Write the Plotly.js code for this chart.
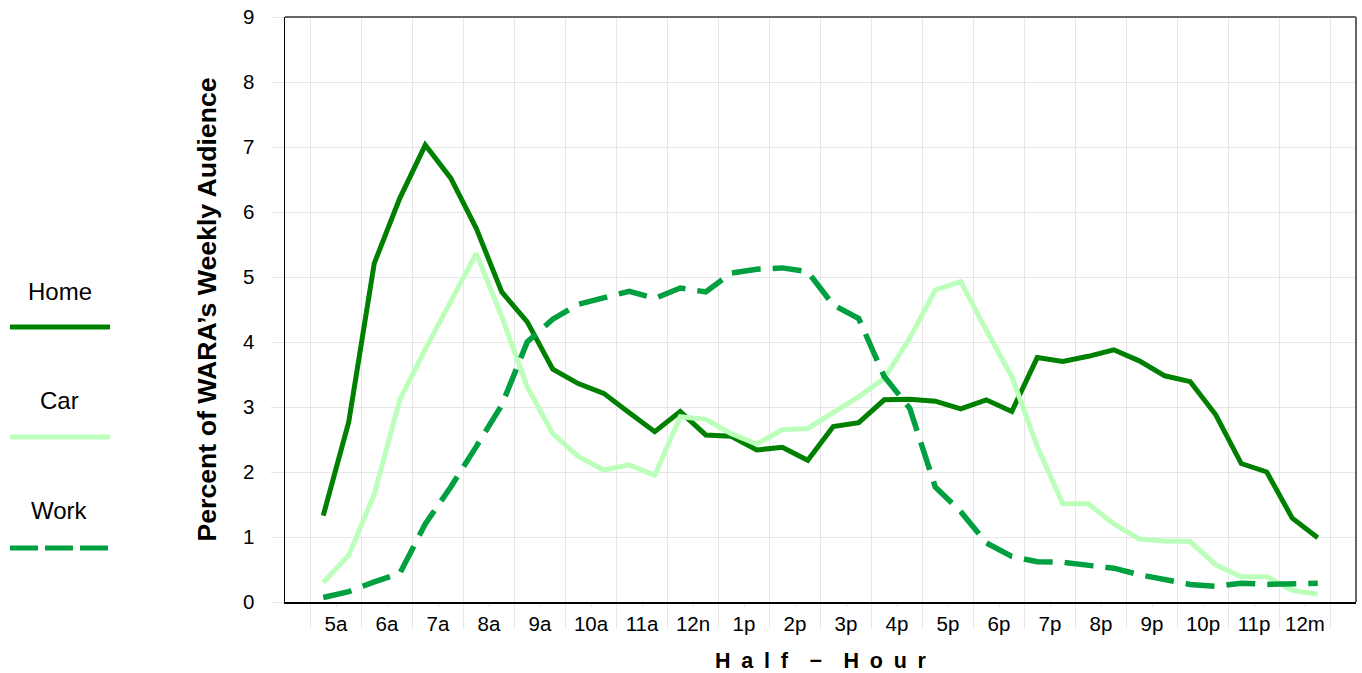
<!DOCTYPE html>
<html>
<head>
<meta charset="utf-8">
<script src="https://cdn.plot.ly/plotly-3.0.1.min.js"></script>
<style>
html,body{margin:0;padding:0;background:#fff;}
#chart{width:1362px;height:673px;}
</style>
</head>
<body>
<div id="chart"></div>
<script>
// Hour labels (each hour band holds two half-hour points)
const hourLabels = ['5a','6a','7a','8a','9a','10a','11a','12n','1p','2p','3p','4p','5p','6p','7p','8p','9p','10p','11p','12m'];

// Percent of WARA's weekly audience, by half-hour (5:00a ... 12:30m)
const home = [1.33, 2.77, 5.21, 6.21, 7.03, 6.52, 5.75, 4.77, 4.31, 3.58,
              3.36, 3.21, 2.91, 2.62, 2.93, 2.57, 2.55, 2.34, 2.38, 2.18,
              2.70, 2.76, 3.11, 3.12, 3.09, 2.97, 3.11, 2.93, 3.76, 3.70,
              3.78, 3.88, 3.71, 3.48, 3.39, 2.88, 2.13, 2.00, 1.29, 0.99];
const car  = [0.30, 0.72, 1.66, 3.11, 3.89, 4.61, 5.36, 4.39, 3.31, 2.59,
              2.24, 2.03, 2.11, 1.95, 2.85, 2.81, 2.59, 2.43, 2.65, 2.67,
              2.91, 3.16, 3.44, 4.06, 4.80, 4.93, 4.18, 3.47, 2.39, 1.51,
              1.51, 1.20, 0.97, 0.94, 0.93, 0.57, 0.39, 0.39, 0.18, 0.12];
const work = [0.07, 0.16, 0.31, 0.44, 1.20, 1.77, 2.39, 3.03, 4.00, 4.35,
              4.58, 4.67, 4.78, 4.67, 4.83, 4.77, 5.06, 5.12, 5.14, 5.08,
              4.57, 4.36, 3.47, 2.98, 1.77, 1.39, 0.91, 0.70, 0.62, 0.61,
              0.57, 0.52, 0.42, 0.34, 0.27, 0.24, 0.29, 0.27, 0.27, 0.29];

const seriesNames = ['Home', 'Car', 'Work'];
const seriesColors = ['#008000', '#bbffbb', '#00a040'];

// half-hour slot i sits at a quarter / three quarters of its hour band
const xPos = home.map((_, i) => 0.25 + 0.5 * i);
const hourTickVals = hourLabels.map((_, k) => k + 0.5);
const hourEdges = Array.from({length: hourLabels.length + 1}, (_, k) => k);

const traces = [
  {x: xPos, y: home, name: seriesNames[0], type: 'scatter', mode: 'lines',
   line: {color: seriesColors[0], width: 5}},
  {x: xPos, y: car, name: seriesNames[1], type: 'scatter', mode: 'lines',
   line: {color: seriesColors[1], width: 5}},
  {x: xPos, y: work, name: seriesNames[2], type: 'scatter', mode: 'lines',
   line: {color: seriesColors[2], width: 5.5, dash: '29px,12px'}}
];

const grid = '#e6e6e6';
const font = 'Liberation Sans, Arial, sans-serif';

// custom legend (label above sample line), placed left of the plot
const legendAnn = [];
const legendShapes = [];
const legTextY = [0.5316, 0.3436, 0.1556];
const legLineY = [0.4701, 0.2821, 0.0923];
seriesNames.forEach((n, i) => {
  legendAnn.push({text: n, xref: 'paper', yref: 'paper', x: -0.2101, y: legTextY[i],
    xanchor: 'center', yanchor: 'middle', showarrow: false,
    font: {family: font, size: 24, color: '#000'}});
  legendShapes.push({type: 'line', xref: 'paper', yref: 'paper',
    x0: -0.2568, x1: -0.1634, y0: legLineY[i], y1: legLineY[i],
    line: {color: seriesColors[i], width: 5, dash: i === 2 ? '28px,7px' : 'solid'}});
});

const layout = {
  width: 1362, height: 673,
  margin: {l: 285, r: 6, t: 17, b: 71},
  paper_bgcolor: '#fff', plot_bgcolor: '#fff',
  showlegend: false,
  font: {family: font, color: '#000'},
  xaxis: {
    range: [-0.5, 20.5], fixedrange: true,
    tickmode: 'array', tickvals: hourTickVals, ticktext: hourLabels,
    showgrid: false, zeroline: false,
    ticks: 'outside', ticklen: 3, tickcolor: grid, tickwidth: 1,
    ticklabelstandoff: 0,
    tickfont: {family: font, size: 20.5, color: '#000'},
    showline: true, linecolor: '#000', linewidth: 1.5,
    minor: {tickmode: 'array', tickvals: hourEdges, showgrid: true, gridcolor: grid, gridwidth: 1,
            ticks: 'outside', ticklen: 24, tickcolor: grid, tickwidth: 1},
    title: {text: 'H\u2002a\u2002l\u2002f\u2003\u2212\u2003H\u2002o\u2002u\u2002r',
            font: {family: font, size: 21.5, color: '#000', weight: 'bold'}, standoff: 20}
  },
  yaxis: {
    range: [0, 9], fixedrange: true, tickmode: 'linear', tick0: 0, dtick: 1,
    showgrid: true, gridcolor: grid, gridwidth: 1, zeroline: false,
    ticks: 'outside', ticklen: 13, tickcolor: grid, tickwidth: 1,
    ticklabelstandoff: 12,
    tickfont: {family: font, size: 20.5, color: '#000'},
    showline: true, linecolor: '#000', linewidth: 1.5,
    title: {text: 'Percent of WARA\u2019s Weekly Audience',
            font: {family: font, size: 26.67, color: '#000', weight: 'bold'}, standoff: 18}
  },
  annotations: legendAnn,
  shapes: legendShapes.concat([
    {type: 'line', xref: 'paper', yref: 'paper', x0: 0, x1: 1, y0: 1, y1: 1, line: {color: '#666', width: 2}},
    {type: 'line', xref: 'paper', yref: 'paper', x0: 1, x1: 1, y0: 0, y1: 1, line: {color: '#666', width: 2}}
  ])
};

Plotly.newPlot('chart', traces, layout, {displayModeBar: false, staticPlot: true});
</script>
</body>
</html>
